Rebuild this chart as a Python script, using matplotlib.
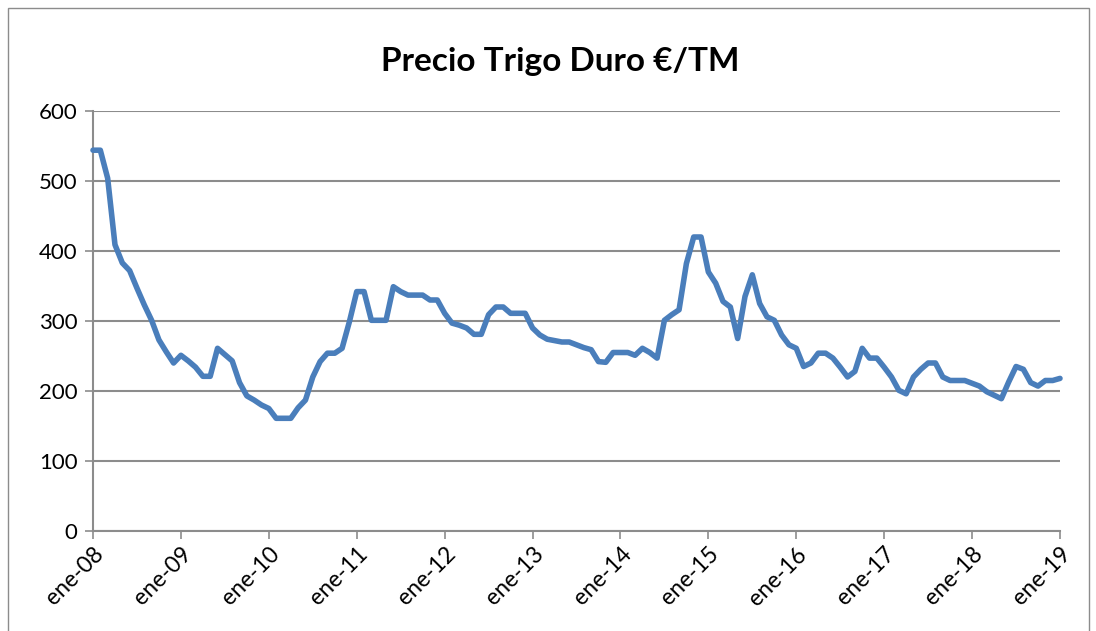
import numpy as np
import matplotlib
matplotlib.use("Agg")
import matplotlib.pyplot as plt
from matplotlib.patches import Rectangle

title = "Precio Trigo Duro €/TM"
tick_labels = ["ene-08", "ene-09", "ene-10", "ene-11", "ene-12", "ene-13",
               "ene-14", "ene-15", "ene-16", "ene-17", "ene-18", "ene-19"]
# monthly prices, ene-08 .. ene-19
prices = [
    544, 544, 504, 409, 383, 372, 347, 323, 301, 273, 256, 240,   # 2008
    251, 243, 234, 221, 221, 261, 252, 243, 212, 193, 187, 180,   # 2009
    175, 161, 161, 161, 176, 187, 220, 242, 254, 254, 261, 299,   # 2010
    342, 342, 301, 301, 301, 349, 342, 337, 337, 337, 330, 330,   # 2011
    311, 297, 294, 290, 281, 281, 309, 320, 320, 311, 311, 311,   # 2012
    290, 280, 274, 272, 270, 270, 266, 262, 259, 242, 241, 255,   # 2013
    255, 255, 251, 261, 255, 247, 301, 309, 316, 382, 420, 420,   # 2014
    370, 354, 328, 320, 275, 335, 366, 325, 306, 301, 280, 266,   # 2015
    261, 235, 240, 254, 254, 247, 234, 220, 228, 261, 247, 247,   # 2016
    234, 220, 201, 196, 220, 231, 240, 240, 220, 215, 215, 215,   # 2017
    211, 207, 199, 194, 189, 213, 235, 231, 212, 207, 215, 215,   # 2018
    218,                                                          # 2019
]
y_ticks = [0, 100, 200, 300, 400, 500, 600]

W, H = 1096, 631
fig = plt.figure(figsize=(W / 100, H / 100), dpi=100)
fig.patch.set_facecolor("white")

# chart area border
fig.add_artist(Rectangle((8 / W, -0.02), (1089 - 8) / W, 1 - 8 / H + 0.02,
                         transform=fig.transFigure, fill=False,
                         edgecolor="#8c8c8c", linewidth=1.0))

ax = fig.add_axes([93 / W, 1 - 531 / H, (1060 - 93) / W, (531 - 111) / H])
months = np.arange(len(prices))
ax.plot(months, prices, color="#4A7EBB", linewidth=4.0,
        solid_joinstyle="round", solid_capstyle="round", clip_on=False, zorder=3)

ax.set_xlim(0, len(prices) - 1)
ax.set_ylim(0, 600)
ax.set_yticks(y_ticks)
ax.set_yticklabels([str(v) for v in y_ticks], fontsize=16, family="Lato")
ax.set_xticks(np.arange(0, len(prices), 12))
ax.set_xticklabels(tick_labels, rotation=45, ha="right", rotation_mode="anchor",
                   fontsize=16.5, family="Lato")

ax.grid(axis="y", color="#8c8c8c", linewidth=1.5)
ax.set_axisbelow(True)
for s in ["top", "right"]:
    ax.spines[s].set_visible(False)
for s in ["left", "bottom"]:
    ax.spines[s].set_color("#8c8c8c")
    ax.spines[s].set_linewidth(1.5)
ax.tick_params(axis="both", direction="out", length=6, width=1.2, color="#8c8c8c",
               labelcolor="black")
ax.tick_params(axis="y", pad=5)
ax.tick_params(axis="x", pad=3)

fig.text(560 / W, 1 - 62 / H, title, ha="center", va="center",
         fontsize=24, fontweight="bold", family="Lato")

fig.savefig("out.png", dpi=100, facecolor="white")
